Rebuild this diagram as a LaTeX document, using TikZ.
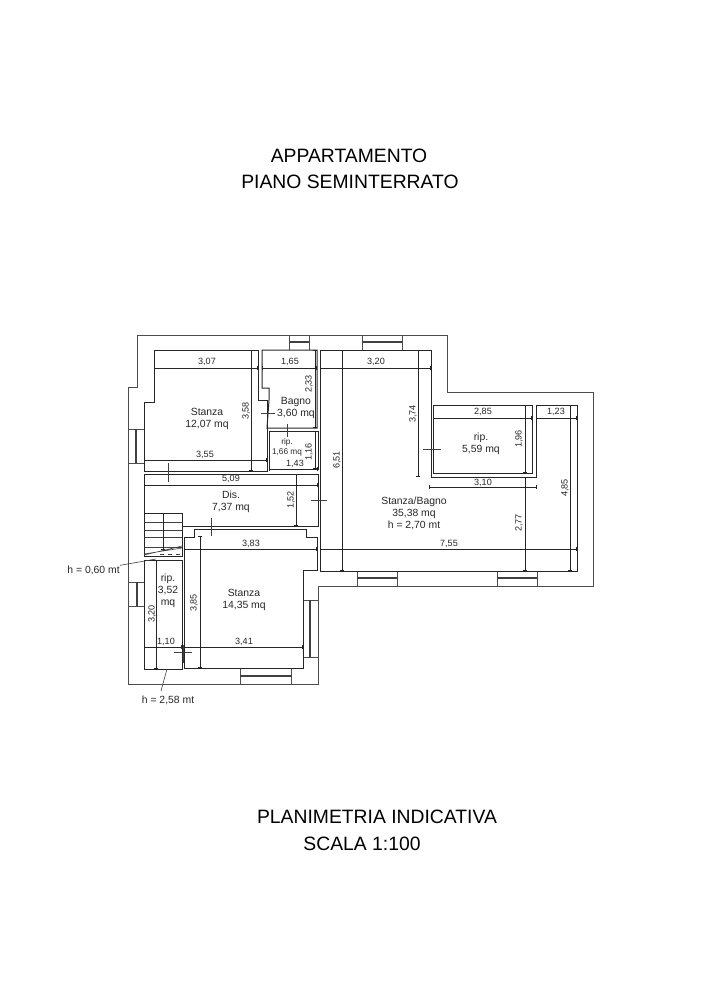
\documentclass[tikz,border=0pt]{standalone}
\usepackage{fontspec}
\setmainfont{Liberation Sans}
\usetikzlibrary{arrows.meta}
\tikzset{
	wall/.style={draw=black!70, line width=0.75pt},
	room/.style={draw=black!85, line width=0.75pt},
	glass/.style={draw=black!75, line width=1.3pt},
	thin/.style={draw=black!75, line width=0.45pt},
	quota/.style={draw=black!85, line width=0.5pt, {Bar[width=3pt,length=0.5pt]}-{Bar[width=3pt,length=0.5pt]}},
	title/.style={font=\fontsize{14.5}{16}\selectfont, inner sep=0pt},
	dimlabel/.style={font=\fontsize{6.8}{8}\selectfont, inner sep=0pt, text=black!85},
	notelabel/.style={font=\fontsize{7.8}{9}\selectfont, inner sep=0pt, text=black!85},
	roomlabel/.style={font=\fontsize{7.8}{9}\selectfont, inner sep=0pt, text=black!85},
	smalllabel/.style={font=\fontsize{6.2}{7.5}\selectfont, inner sep=0pt, text=black!85}
}
\begin{document}
\begin{tikzpicture}[x=0.75pt,y=-0.75pt]
	\useasboundingbox (0,0) rectangle (702,997);

	% Titles
	\node[title] (titleA) at (349,156) {APPARTAMENTO};
	\node[title] (titleB) at (350,182) {PIANO SEMINTERRATO};
	\node[title] (titleC) at (377,817) {PLANIMETRIA INDICATIVA};
	\node[title] (titleD) at (362,844) {SCALA 1:100};

	% Outer wall
	\draw[wall] (137,335) -- (447,335) -- (447,392) -- (593,392) -- (593,586) -- (318,586)
		-- (318,684) -- (128,684) -- (128,387) -- (137,387) -- cycle;

	% Windows
	\draw[wall] (128,429) -- (144,429) (128,463) -- (144,463);
	\draw[glass] (136,429) -- (136,463);
	\draw[wall] (128,582) -- (144,582) (128,606) -- (144,606);
	\draw[glass] (137,582) -- (137,606);
	\draw[wall] (289,335) -- (289,350) (309,335) -- (309,350);
	\draw[glass] (289,342) -- (309,342);
	\draw[wall] (362,335) -- (362,350) (402,335) -- (402,350);
	\draw[glass] (362,342) -- (402,342);
	\draw[wall] (357,571) -- (357,586) (397,571) -- (397,586);
	\draw[glass] (357,578) -- (397,578);
	\draw[wall] (497,571) -- (497,586) (537,571) -- (537,586);
	\draw[glass] (497,578) -- (537,578);
	\draw[wall] (303,600) -- (318,600) (303,657) -- (318,657);
	\draw[glass] (310,600) -- (310,657);
	\draw[wall] (240,668) -- (240,684) (291,668) -- (291,684);
	\draw[glass] (240,676) -- (291,676);

	% Rooms
	\draw[room] (154,350) -- (258,350) -- (258,400) -- (267,400) -- (267,471) -- (144,471)
		-- (144,402) -- (154,402) -- cycle;
	\draw[room] (262,350) -- (317,350) -- (317,428) -- (267,428) -- (269,400) -- (269,388)
		-- (262,388) -- cycle;
	\draw[room] (269,431) -- (318,431) -- (318,469) -- (269,469) -- cycle;
	\draw[room] (144,513) -- (144,474) -- (318,474) -- (318,526) -- (182,526) -- (182,513);
	\draw[room] (144,560) -- (182,560) -- (182,669) -- (144,669) -- cycle;
	\draw[room] (184,537) -- (194,537) -- (194,529) -- (306,529) -- (306,537) -- (317,537)
		-- (317,570) -- (303,570) -- (303,668) -- (184,668) -- cycle;
	\draw[room] (320,350) -- (431,350) -- (431,477) -- (536,477) -- (536,405) -- (577,405)
		-- (577,571) -- (320,571) -- cycle;
	\draw[room] (433,405) -- (532,405) -- (532,473) -- (433,473) -- cycle;

	% Stairs
	\draw[room] (144,513) -- (182,513) -- (182,556) -- (144,556) -- cycle;
	\draw[thin] (144,522) -- (182,522) (144,530) -- (182,530) (144,537) -- (182,537) (144,547) -- (182,547);
	\draw[thin] (144,555) -- (182,546) (144,554) -- (182,548);
	\draw[thin, dashed] (160,554) -- (182,554);
	\draw[quota] (163,513) -- (163,550);

	% Door marks
	\draw[thin] (168,463) -- (168,482);
	\draw[thin] (261,413) -- (275,413);
	\draw[thin] (287,424) -- (287,437);
	\draw[thin] (311,500) -- (327,500);
	\draw[thin] (211,518) -- (211,536);
	\draw[thin] (174,652) -- (192,652) (183,645) -- (183,663);
	\draw[thin] (423,449) -- (441,449);

	% Horizontal dimensions
	\draw[quota] (154,368) -- (258,368);
	\draw[quota] (262,368) -- (317,368);
	\draw[quota] (320,368) -- (431,368);
	\draw[quota] (144,460) -- (267,460);
	\draw[quota] (269,469) -- (318,469);
	\draw[quota] (144,485) -- (318,485);
	\draw[quota] (184,549) -- (317,549);
	\draw[quota] (144,647) -- (182,647);
	\draw[quota] (184,647) -- (303,647);
	\draw[quota] (433,418) -- (532,418);
	\draw[quota] (536,418) -- (577,418);
	\draw[quota] (429,487) -- (537,487);
	\draw[quota] (320,549) -- (577,549);

	% Vertical dimensions
	\draw[quota] (315,350) -- (315,428);
	\draw[quota] (251,350) -- (251,471);
	\draw[quota] (315,431) -- (315,469);
	\draw[quota] (296,474) -- (296,526);
	\draw[quota] (200,536) -- (200,668);
	\draw[quota] (156,560) -- (156,669);
	\draw[quota] (342,350) -- (342,571);
	\draw[quota] (418,350) -- (418,477);
	\draw[quota] (525,405) -- (525,473);
	\draw[quota] (525,477) -- (525,571);
	\draw[quota] (570,405) -- (570,571);

	% Dimension labels
	\node[dimlabel] (d307) at (207,362) {3,07};
	\node[dimlabel] (d165) at (290,362) {1,65};
	\node[dimlabel] (d320) at (376,362) {3,20};
	\node[dimlabel] (d355) at (205,455) {3,55};
	\node[dimlabel] (d143) at (295,464) {1,43};
	\node[dimlabel] (d509) at (231,479) {5,09};
	\node[dimlabel] (d383) at (251,544) {3,83};
	\node[dimlabel] (d110) at (166,642) {1,10};
	\node[dimlabel] (d341) at (244,642) {3,41};
	\node[dimlabel] (d285) at (483,412) {2,85};
	\node[dimlabel] (d123) at (556,412) {1,23};
	\node[dimlabel] (d310) at (483,483) {3,10};
	\node[dimlabel] (d755) at (449,544) {7,55};
	\node[dimlabel, rotate=90] (d233) at (309,384) {2,33};
	\node[dimlabel, rotate=90] (d358) at (246,411) {3,58};
	\node[dimlabel, rotate=90] (d116) at (309,452) {1,16};
	\node[dimlabel, rotate=90] (d152) at (291,500) {1,52};
	\node[dimlabel, rotate=90] (d385) at (194,603) {3,85};
	\node[dimlabel, rotate=90] (d320v) at (152,614) {3,20};
	\node[dimlabel, rotate=90] (d651) at (337,460) {6,51};
	\node[dimlabel, rotate=90] (d374) at (413,414) {3,74};
	\node[dimlabel, rotate=90] (d196) at (519,439) {1,96};
	\node[dimlabel, rotate=90] (d277) at (519,523) {2,77};
	\node[dimlabel, rotate=90] (d485) at (565,488) {4,85};

	% Room labels
	\node[roomlabel, align=center] (stanzaA) at (207,419) {Stanza\\12,07 mq};
	\node[roomlabel, align=center] (bagno) at (296,408) {Bagno\\3,60 mq};
	\node[smalllabel, align=center] (ripA) at (287,447) {rip.\\1,66 mq};
	\node[roomlabel, align=center] (dis) at (231,502) {Dis.\\7,37 mq};
	\node[roomlabel, align=center] (ripB) at (168,591) {rip.\\3,52\\mq};
	\node[roomlabel, align=center] (stanzaB) at (244,600) {Stanza\\14,35 mq};
	\node[roomlabel, align=center] (ripC) at (481,444) {rip.\\5,59 mq};
	\node[roomlabel, align=center] (stanzaC) at (414,513) {Stanza/Bagno\\35,38 mq\\h = 2,70 mt};

	% Height notes
	\node[notelabel, anchor=east] (hlow) at (120,570) {h = 0,60 mt};
	\coordinate (hlowend) at (156,559);
	\draw[thin] (hlow) -- (hlowend);
	\node[notelabel] (hhigh) at (168,700) {h = 2,58 mt};
	\coordinate (hhighstart) at (161,691);
	\coordinate (hhighend) at (167,669);
	\draw[thin] (hhighstart) -- (hhighend);
\end{tikzpicture}
\end{document}
